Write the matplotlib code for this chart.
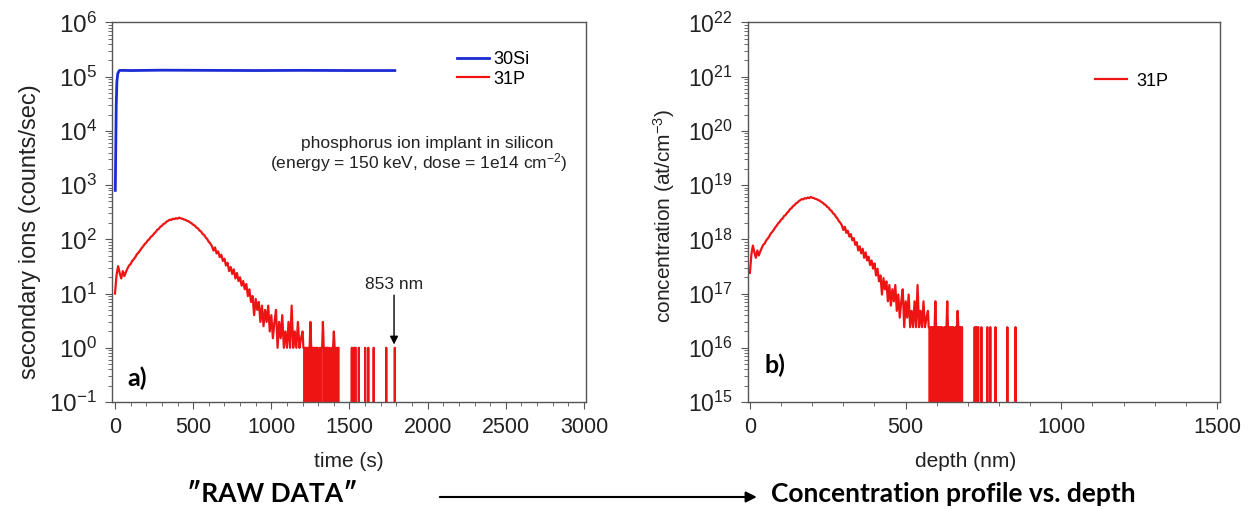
import matplotlib.pyplot as plt
from matplotlib.patches import FancyArrowPatch
from matplotlib.ticker import LogLocator, MultipleLocator, NullFormatter

plt.rcParams['font.family'] = ['Liberation Sans', 'DejaVu Sans']
plt.rcParams['mathtext.fontset'] = 'custom'
plt.rcParams['mathtext.rm'] = 'Liberation Sans'
plt.rcParams['mathtext.it'] = 'Liberation Sans:italic'
plt.rcParams['mathtext.bf'] = 'Liberation Sans:bold'

# 31P raw signal (counts/sec) vs sputter time (s), read from panel a)
p_time = [0, 10, 20, 30, 40, 50, 60, 70, 80, 90,
          100, 110, 120, 130, 140, 150, 160, 170, 180, 190,
          200, 210, 220, 230, 240, 250, 260, 270, 280, 290,
          300, 310, 320, 330, 340, 350, 360, 370, 380, 390,
          400, 410, 420, 430, 440, 450, 460, 470, 480, 490,
          500, 510, 520, 530, 540, 550, 560, 570, 580, 590,
          600, 610, 620, 630, 640, 650, 660, 670, 680, 690,
          700, 710, 720, 730, 740, 750, 760, 770, 780, 790,
          800, 810, 820, 830, 840, 850, 860, 870, 880, 890,
          900, 910, 920, 930, 940, 950, 960, 970, 980, 990,
          1000, 1010, 1020, 1030, 1040, 1050, 1060, 1070, 1080, 1090,
          1100, 1110, 1120, 1130, 1140, 1150, 1160, 1170, 1180, 1190,
          1200, 1205, 1210, 1215, 1220, 1225, 1230, 1235, 1240, 1245,
          1250, 1255, 1260, 1265, 1270, 1275, 1280, 1285, 1290, 1295,
          1300, 1305, 1310, 1315, 1320, 1325, 1330, 1335, 1340, 1345,
          1350, 1355, 1360, 1365, 1370, 1375, 1380, 1385, 1390, 1395,
          1400, 1405, 1410, 1415, 1420, 1425, 1430, 1435, 1440,
          1510, 1515, 1520, 1525, 1530, 1535, 1540, 1545, 1555, 1560,
          1565, 1595, 1600, 1605, 1615, 1620, 1625, 1650, 1655, 1660,
          1730, 1735, 1740, 1785, 1790, 1795]
p_counts = [10, 22, 32, 24, 19, 26, 21, 25, 29, 33,
            35, 40, 43, 47, 53, 57, 62, 69, 74, 82,
            87, 96, 101, 112, 117, 128, 136, 150, 156, 170,
            178, 192, 198, 212, 220, 231, 228, 240, 236, 246,
            240, 252, 244, 241, 233, 230, 221, 216, 205, 198,
            186, 180, 166, 160, 146, 140, 126, 121, 108, 101,
            90, 84, 75, 62, 71, 55, 60, 47, 52, 40,
            44, 33, 37, 26, 31, 23, 28, 19, 24, 17,
            20, 14, 17, 12, 15, 9, 12, 7, 9, 4,
            8, 5, 7, 3, 6, 2.5, 5, 3, 6, 2,
            4, 1.5, 3, 5, 1, 3, 1.5, 4, 1, 2,
            1, 3, 1, 6, 1, 2, 1, 3, 1, 1.5,
            2, 1, 1, 0, 1, 1, 0, 1, 0, 1,
            3, 1, 0, 1, 1, 0, 1, 0, 1, 1,
            0, 0, 1, 0, 1, 1, 3, 1, 0, 1,
            0, 1, 1, 0, 1, 0, 0, 1, 0, 1,
            2, 1, 0, 1, 0, 1, 1, 0, 0,
            0, 1, 0, 1, 0, 1, 1, 0, 0, 1,
            0, 0, 1, 0, 0, 1, 0, 0, 1, 0,
            0, 1, 0, 0, 1, 0]

# 30Si matrix signal
si_time = [2, 5, 8, 12, 18, 28, 40, 100, 300, 600, 900, 1200, 1500, 1790]
si_counts = [800, 5000, 3.0e4, 8.0e4, 1.15e5, 1.3e5, 1.31e5, 1.3e5, 1.32e5,
             1.31e5, 1.3e5, 1.31e5, 1.3e5, 1.3e5]

# conversion read from panel b): 1790 s -> 853 nm, 1 count/s -> 2.4e16 at/cm3
crater_depth = 853
last_time = 1790
rsf = 2.4e16

depth_nm = [t * crater_depth / last_time for t in p_time]
conc = [c * rsf for c in p_counts]

red = '#ee1414'
blue = '#1c2bd4'
spine_col = '#555555'
text_col = '#222222'
caption_font = ['Lato', 'DejaVu Sans']


def style_axes(ax, ysize):
    ax.set_yscale('log', nonpositive='clip')
    for s in ax.spines.values():
        s.set_color(spine_col)
        s.set_linewidth(1.0)
    ax.tick_params(which='both', direction='out', color=spine_col,
                   top=False, right=False, labelcolor=text_col)
    ax.tick_params(which='major', length=5, pad=6)
    ax.tick_params(axis='x', labelsize=15.5)
    ax.tick_params(axis='y', labelsize=ysize)
    ax.tick_params(which='minor', length=3)
    ax.yaxis.set_major_locator(LogLocator(base=10, numticks=20))
    ax.yaxis.set_minor_locator(LogLocator(base=10, subs=range(2, 10), numticks=20))
    ax.yaxis.set_minor_formatter(NullFormatter())
    ax.xaxis.set_minor_locator(MultipleLocator(100))


fig = plt.figure(figsize=(12.53, 5.09), dpi=100)
ax1 = fig.add_axes([0.0894, 0.2102, 0.3783, 0.7456])
ax2 = fig.add_axes([0.597, 0.2102, 0.3767, 0.7456])

# panel a) raw data
style_axes(ax1, 17.5)
ax1.plot(si_time, si_counts, color=blue, lw=2, label='30Si')
ax1.plot(p_time, p_counts, color=red, lw=1.6, label='31P')
ax1.set_xlim(-19, 3013)
ax1.set_ylim(1e-1, 1e6)
ax1.xaxis.set_major_locator(MultipleLocator(500))
ax1.set_xlabel('time (s)', fontsize=15, color=text_col)
ax1.xaxis.set_label_coords(0.5, -0.133)
ax1.set_ylabel('secondary ions (counts/sec)', fontsize=17, color=text_col)
ax1.yaxis.set_label_coords(-0.15, 0.45)
ax1.legend(loc='upper left', bbox_to_anchor=(0.727, 0.925), frameon=False,
           fontsize=13, handlelength=1.8, handletextpad=0.25, labelspacing=0.15,
           borderpad=0, borderaxespad=0)
ax1.text(0.665, 0.682, 'phosphorus ion implant in silicon', transform=ax1.transAxes,
         ha='center', va='center', fontsize=12.5, color=text_col)
ax1.text(0.646, 0.632, '(energy = 150 keV, dose = 1e14 cm$^{-2}$)', transform=ax1.transAxes,
         ha='center', va='center', fontsize=12.5, color=text_col)
ax1.annotate('853 nm', xy=(1785, 1.15), xytext=(1785, 10.5), ha='center', va='bottom',
             fontsize=12.5, color=text_col,
             arrowprops=dict(arrowstyle='-|>', color='black', lw=1,
                             shrinkA=0, shrinkB=0, mutation_scale=12))
ax1.text(0.032, 0.063, 'a)', transform=ax1.transAxes, ha='left', va='center',
         fontsize=18, fontweight='bold', family=['Lato', 'DejaVu Sans'])

# panel b) concentration vs depth
style_axes(ax2, 16.5)
ax2.plot(depth_nm, conc, color=red, lw=1.6, label='31P')
ax2.set_xlim(-6, 1510)
ax2.set_ylim(1e15, 1e22)
ax2.xaxis.set_major_locator(MultipleLocator(500))
ax2.set_xlabel('depth (nm)', fontsize=15, color=text_col)
ax2.xaxis.set_label_coords(0.46, -0.133)
ax2.set_ylabel('concentration (at/cm$^{-3}$)', fontsize=15, color=text_col)
ax2.yaxis.set_label_coords(-0.15, 0.49)
ax2.legend(loc='upper left', bbox_to_anchor=(0.735, 0.868), frameon=False,
           fontsize=13, handlelength=1.8, handletextpad=0.5, borderpad=0, borderaxespad=0)
ax2.text(0.034, 0.097, 'b)', transform=ax2.transAxes, ha='left', va='center',
         fontsize=18, fontweight='bold', family=['Lato', 'DejaVu Sans'])

# captions below
fig.text(0.217, 0.0295, '\u2033RAW DATA\u2033', ha='center', va='center',
         fontsize=19, fontweight='bold', family=caption_font)
fig.text(0.761, 0.0295, 'Concentration profile vs. depth', ha='center', va='center',
         fontsize=19, fontweight='bold', family=caption_font)
fig.add_artist(FancyArrowPatch((0.351, 0.0236), (0.604, 0.0236), transform=fig.transFigure,
                               arrowstyle='-|>', color='black', lw=1.5,
                               shrinkA=0, shrinkB=0, mutation_scale=16))

fig.savefig('out.png', dpi=100)
